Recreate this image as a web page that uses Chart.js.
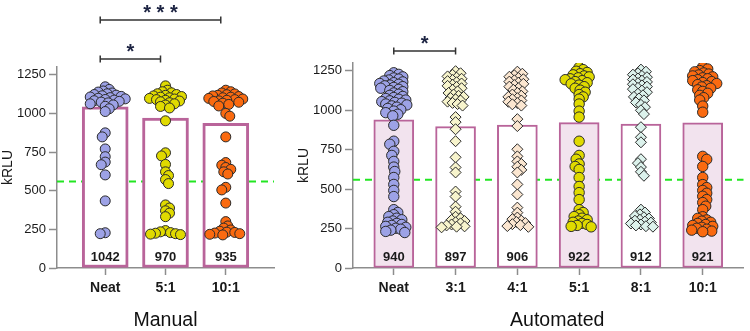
<!DOCTYPE html>
<html>
<head>
<meta charset="utf-8">
<script src="https://cdn.jsdelivr.net/npm/chart.js@4.4.1/dist/chart.umd.min.js"></script>
<style>
    body { margin: 0; background: #fff; }
    #wrap { display: flex; width: 750px; height: 331px; }
    #left { position: relative; width: 280px; height: 331px; }
    #right { position: relative; width: 470px; height: 331px; }
</style>
</head>
<body>
<div id="wrap">
    <div id="left"><canvas id="manualChart"></canvas></div>
    <div id="right"><canvas id="autoChart"></canvas></div>
</div>
<script>
// ---- data (kRLU) ----
const Y_TICKS = [0, 250, 500, 750, 1000, 1250];
const CUTOFF = 560;

const MANUAL_CATS = ['Neat', '5:1', '10:1'];
const MANUAL_BARS = [1042, 970, 935];
const MANUAL_NEAT = [1172, 1155, 1145, 1138, 1132, 1127, 1122, 1118, 1114, 1110, 1106, 1102, 1098, 1094, 1090, 1086, 1082, 1078, 1073, 1068, 1062, 1055, 1046, 1030, 1012,
    874, 848, 770, 720, 685, 668, 602, 434, 228, 222];
const MANUAL_5 = [1178, 1150, 1140, 1133, 1127, 1122, 1117, 1113, 1109, 1105, 1101, 1097, 1093, 1089, 1085, 1080, 1075, 1069, 1062, 1054, 1045, 1035,
    952, 745, 725, 670, 622, 598, 572, 546, 408, 388, 370, 355, 332, 242, 234, 229, 225, 222, 219, 216];
const MANUAL_10 = [1150, 1140, 1132, 1126, 1121, 1117, 1113, 1109, 1105, 1101, 1097, 1093, 1089, 1085, 1081, 1077, 1072, 1066, 1058, 1048, 1000, 982,
    848, 682, 665, 650, 638, 622, 608, 522, 505, 420, 300, 272, 258, 246, 238, 232, 230, 226, 222, 218, 214];
const MANUAL_SIG = [
    { from: 0, to: 2, text: '* * *' },
    { from: 0, to: 1, text: '*' }
];

const AUTO_CATS = ['Neat', '3:1', '4:1', '5:1', '8:1', '10:1'];
const AUTO_BARS = [940, 897, 906, 922, 912, 921];
const AUTO_NEAT = [1238, 1228, 1220, 1212, 1205, 1198, 1192, 1186, 1180, 1175, 1170, 1165, 1160, 1155, 1150, 1145, 1140, 1133, 1126, 1118, 1110, 1102, 1095, 1088, 1081, 1075, 1070, 1065, 1060, 1055, 1050, 1045, 1040, 1034, 1028, 1020, 1012, 1004, 995, 985, 975, 965, 905,
    804, 785, 740, 714, 676, 640, 612, 574, 530, 492, 453, 370, 352, 338, 326, 316, 306, 298, 290, 283, 276, 270, 264, 258, 252, 246, 240, 232, 225];
const AUTO_3 = [1248, 1235, 1225, 1215, 1207, 1200, 1192, 1185, 1178, 1170, 1162, 1155, 1148, 1140, 1130, 1120, 1110, 1100, 1092, 1085, 1078, 1070, 1062, 1055, 1047, 1040, 1030, 957, 925, 880,
    804, 702, 638, 606, 485, 453, 389, 357, 325, 315, 305, 298, 290, 283, 276, 270, 264, 262, 258];
const AUTO_4 = [1245, 1232, 1222, 1213, 1205, 1197, 1190, 1182, 1175, 1168, 1160, 1150, 1140, 1130, 1120, 1110, 1100, 1092, 1085, 1077, 1070, 1062, 1054, 1046, 1038, 1030, 944, 900,
    753, 708, 676, 660, 642, 622, 606, 530, 466, 383, 351, 320, 310, 300, 292, 285, 278, 272, 266, 261];
const AUTO_5 = [1272, 1258, 1248, 1240, 1232, 1225, 1218, 1212, 1206, 1200, 1194, 1188, 1182, 1175, 1168, 1160, 1150, 1140, 1128, 1115, 1100, 1085, 1071, 1040, 995, 957,
    804, 714, 690, 660, 644, 625, 574, 517, 478, 434, 370, 352, 338, 326, 316, 306, 298, 290, 283, 276, 270, 264, 261];
const AUTO_8 = [1258, 1245, 1235, 1226, 1218, 1210, 1202, 1195, 1188, 1180, 1172, 1165, 1158, 1150, 1142, 1134, 1125, 1115, 1105, 1095, 1085, 1075, 1063, 1050, 1035, 1020, 1000, 976, 893, 829, 797,
    690, 665, 640, 610, 585, 370, 352, 340, 330, 322, 314, 306, 300, 294, 288, 282, 276, 270, 265, 262];
const AUTO_10 = [1275, 1262, 1252, 1244, 1237, 1230, 1224, 1218, 1212, 1206, 1200, 1194, 1188, 1182, 1176, 1170, 1163, 1156, 1148, 1140, 1130, 1120, 1108, 1095, 1080, 1065, 1027, 988,
    708, 689, 644, 574, 529, 510, 492, 474, 455, 434, 415, 392, 370, 325, 315, 305, 297, 290, 283, 276, 270, 264, 258, 252, 246, 240, 234, 230];
const AUTO_SIG = [
    { from: 0, to: 1, text: '*' }
];

// ---- colours ----
const AXIS = '#8d8d8d';
const TEXT = '#1a1a1a';
const BAR_EDGE = '#b9649a';
const BAR_PINK = '#f2e3ee';
const PURPLE = '#9da2e6', YELLOW = '#e0da00', ORANGE = '#fa6a10';
const CREAM = '#f7f4cc', PEACH = '#fbe6d0', MINT = '#dcf2ec';

Chart.defaults.font.family = '"Liberation Sans", Arial, sans-serif';
Chart.defaults.color = TEXT;

// cutoff line, bar value labels, panel title and significance brackets
const extras = {
    id: 'extras',
    beforeDatasetsDraw(chart, args, opts) {
        const { ctx, chartArea: a, scales: { y } } = chart;
        const py = y.getPixelForValue(CUTOFF);
        ctx.save();
        ctx.strokeStyle = '#22e622';
        ctx.lineWidth = 2;
        ctx.setLineDash([7, 5]);
        ctx.beginPath();
        ctx.moveTo(a.left, py);
        ctx.lineTo(a.right, py);
        ctx.stroke();
        ctx.restore();
    },
    afterDatasetsDraw(chart, args, opts) {
        const { ctx, scales: { y } } = chart;
        const meta = chart.getDatasetMeta(0);
        const base = y.getPixelForValue(0);
        ctx.save();
        ctx.font = 'bold 13px "Liberation Sans", Arial, sans-serif';
        ctx.fillStyle = TEXT;
        ctx.textAlign = 'center';
        ctx.textBaseline = 'middle';
        meta.data.forEach((bar, i) => {
            ctx.fillText(String(chart.data.datasets[0].data[i].y), bar.x, base - 10.5);
        });
        ctx.restore();
    },
    afterDraw(chart, args, opts) {
        const { ctx, chartArea: a, scales: { x } } = chart;
        ctx.save();
        // panel title under the axis
        ctx.font = '19.5px "Liberation Sans", Arial, sans-serif';
        ctx.fillStyle = '#111';
        ctx.textAlign = 'center';
        ctx.textBaseline = 'middle';
        ctx.fillText(opts.title, (a.left + a.right) / 2 + opts.titleShift, 321);

        ctx.strokeStyle = '#333';
        ctx.lineWidth = 1.5;
        ctx.fillStyle = '#1c2342';
        ctx.textBaseline = 'alphabetic';
        ctx.font = 'bold 20px "Liberation Sans", Arial, sans-serif';
        opts.sig.forEach((s, k) => {
            const py = opts.rows[k];
            const x1 = x.getPixelForValue(s.from) + opts.shift;
            const x2 = x.getPixelForValue(s.to) + opts.shift;
            ctx.beginPath();
            ctx.moveTo(x1, py - 3.5); ctx.lineTo(x1, py + 3.5);
            ctx.moveTo(x1, py); ctx.lineTo(x2, py);
            ctx.moveTo(x2, py - 3.5); ctx.lineTo(x2, py + 3.5);
            ctx.stroke();
            ctx.fillText(s.text, (x1 + x2) / 2, py - 1.5);
        });
        ctx.restore();
    }
};

function pointSet(cat, values, color, style, radius) {
    return {
        type: 'scatter',
        cat: cat,
        values: values,
        data: values.map(v => ({ x: cat, y: v })),
        pointStyle: style,
        pointRadius: radius,
        pointBackgroundColor: color,
        pointBorderColor: '#2a2a2a',
        pointBorderWidth: 1,
        order: 1
    };
}

function makeChart(id, p) {
    const datasets = [{
        type: 'bar',
        data: p.bars.map((v, i) => ({ x: i, y: v })),
        backgroundColor: p.barFill,
        borderColor: BAR_EDGE,
        borderWidth: p.barEdge,
        borderSkipped: false,
        barThickness: p.barWidth,
        order: 2
    }].concat(p.points);

    return new Chart(document.getElementById(id), {
        type: 'bar',
        data: { datasets: datasets },
        options: {
            responsive: true,
            maintainAspectRatio: false,
            animation: false,
            layout: { padding: p.pad },
            plugins: {
                legend: { display: false },
                tooltip: { enabled: false },
                extras: { sig: p.sig, rows: p.sigRows, shift: p.sigShift, title: p.title, titleShift: p.titleShift }
            },
            scales: {
                x: {
                    type: 'linear',
                    min: p.xMin,
                    max: p.cats.length - 1 - p.xMin,
                    offset: false,
                    afterBuildTicks: s => { s.ticks = p.cats.map((c, i) => ({ value: i })); },
                    afterFit: s => { s.height = 63; },
                    ticks: {
                        callback: v => p.cats[v],
                        font: { size: 14, weight: 'bold' },
                        color: TEXT,
                        padding: 5,
                        maxRotation: 0
                    },
                    grid: { display: true, offset: false, drawOnChartArea: false, drawTicks: true, tickLength: 7, tickColor: AXIS, tickWidth: 1.5 },
                    border: { display: true, color: AXIS, width: 1.5 }
                },
                y: {
                    min: 0,
                    max: 1300,
                    afterBuildTicks: s => { s.ticks = Y_TICKS.map(v => ({ value: v })); },
                    afterFit: s => { s.width = p.yWidth; },
                    ticks: { callback: v => String(v), font: { size: 13 }, color: TEXT, padding: 3 },
                    grid: { display: true, drawOnChartArea: false, drawTicks: true, tickLength: 8, tickColor: AXIS, tickWidth: 1.5 },
                    border: { display: true, color: AXIS, width: 1.5 },
                    title: { display: true, text: 'kRLU', font: { size: 14 }, color: TEXT, padding: 0 }
                }
            }
        },
        plugins: [extras]
    });
}

// spread overlapping points sideways (beeswarm), using the chart's own scales
function swarm(chart, gap) {
    const xs = chart.scales.x, ys = chart.scales.y;
    const unit = xs.getPixelForValue(1) - xs.getPixelForValue(0);
    chart.data.datasets.forEach(ds => {
        if (ds.type !== 'scatter') return;
        const placed = [];
        ds.data = ds.values.slice().sort((a, b) => b - a).map((v, n) => {
            const py = ys.getPixelForValue(v);
            const side = n % 2 ? 1 : -1;
            let dx = 0;
            for (let k = 0; k < 80; k++) {
                const cand = k === 0 ? 0 : (k % 2 ? side : -side) * Math.ceil(k / 2);
                if (placed.every(q => Math.hypot(q[0] - cand, q[1] - py) >= gap)) { dx = cand; break; }
            }
            placed.push([dx, py]);
            return { x: ds.cat + dx / unit, y: v };
        });
    });
    chart.update('none');
}

const manualChart = makeChart('manualChart', {
    cats: MANUAL_CATS,
    bars: MANUAL_BARS,
    title: 'Manual',
    titleShift: 0,
    xMin: -0.8,
    barWidth: 46,
    barEdge: 3,
    barFill: '#ffffff',
    pad: { top: 67, right: 5, bottom: 0, left: 0 },
    yWidth: 57,
    sig: MANUAL_SIG,
    sigRows: [20, 59],
    sigShift: -5,
    points: [
        pointSet(0, MANUAL_NEAT, PURPLE, 'circle', 5),
        pointSet(1, MANUAL_5, YELLOW, 'circle', 5),
        pointSet(2, MANUAL_10, ORANGE, 'circle', 5)
    ]
});

const autoChart = makeChart('autoChart', {
    cats: AUTO_CATS,
    bars: AUTO_BARS,
    title: 'Automated',
    titleShift: 9,
    xMin: -0.66,
    barWidth: 40,
    barEdge: 2,
    barFill: [BAR_PINK, '#ffffff', '#ffffff', BAR_PINK, '#ffffff', BAR_PINK],
    pad: { top: 63, right: 3, bottom: 0, left: 16 },
    yWidth: 57,
    sig: AUTO_SIG,
    sigRows: [51],
    sigShift: 0,
    points: [
        pointSet(0, AUTO_NEAT, PURPLE, 'circle', 5.2),
        pointSet(1, AUTO_3, CREAM, 'rectRot', 5.5),
        pointSet(2, AUTO_4, PEACH, 'rectRot', 5.5),
        pointSet(3, AUTO_5, YELLOW, 'circle', 5.2),
        pointSet(4, AUTO_8, MINT, 'rectRot', 5.5),
        pointSet(5, AUTO_10, ORANGE, 'circle', 5.2)
    ]
});

swarm(manualChart, 4.5);
swarm(autoChart, 4.5);
</script>
</body>
</html>
